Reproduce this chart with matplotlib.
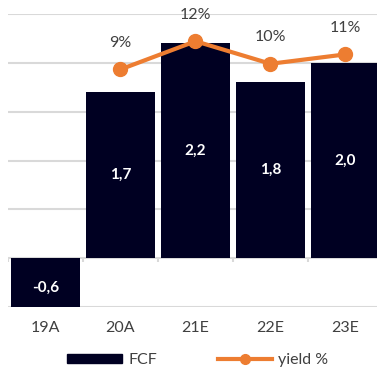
import matplotlib
matplotlib.use('Agg')
import matplotlib.pyplot as plt
from matplotlib.lines import Line2D
from matplotlib.patches import Patch

years = ['19A', '20A', '21E', '22E', '23E']
fcf = [-0.6, 1.7, 2.2, 1.8, 2.0]
yield_years = ['20A', '21E', '22E', '23E']
yield_pct = [9.0, 12.0, 9.6, 10.6]

navy = '#000022'
orange = '#ED7D31'
grid = '#d9d9d9'
text_col = '#404040'

plt.rcParams['font.family'] = ['Lato', 'DejaVu Sans']

fig = plt.figure(figsize=(3.77, 3.69), dpi=100)
ax = fig.add_axes([8 / 377, 62 / 369, 375 / 377, 293 / 369])

x = list(range(len(years)))
ax.bar(x, fcf, width=0.92, color=navy, zorder=2)
ax.set_xlim(-0.5, 4.5)
ax.set_ylim(-0.5, 2.5)
ax.set_yticks([-0.5, 0.5, 1.0, 1.5, 2.0, 2.5])
ax.yaxis.grid(True, color=grid, linewidth=1.5, zorder=0)
ax.set_yticklabels([])
ax.tick_params(axis='y', length=0)
ax.axhline(0, color=grid, linewidth=1.5, zorder=1)
ax.vlines([i - 0.5 for i in x], -0.035, 0, color=grid, linewidth=1.5, zorder=1)
for s in ax.spines.values():
    s.set_visible(False)
ax.set_xticks(x)
ax.set_xticklabels(years, fontsize=11.5, color=text_col)
ax.tick_params(axis='x', length=0, pad=10)

for i, v in enumerate(fcf):
    ax.text(i, v / 2, f'{v:.1f}'.replace('.', ','), ha='center', va='center',
            color='white', fontsize=11, fontweight='bold', zorder=3)

ax2 = ax.twinx()
ax2.set_ylim(-16.3, 14.9)
ax2.axis('off')
xi = [years.index(y) for y in yield_years]
ax2.plot(xi, yield_pct, color=orange, linewidth=3, marker='o', markersize=10,
         solid_capstyle='round', zorder=4)
for xx, v in zip(xi, yield_pct):
    ax2.annotate(f'{v:.0f}%', (xx, v), xytext=(0, 19), textcoords='offset points',
                 ha='center', va='center', fontsize=11.5, color=text_col,
                 annotation_clip=False)

handles = [Patch(color=navy, label='FCF'),
           Line2D([], [], color=orange, linewidth=3, marker='o', markersize=7,
                  label='yield %')]
leg = fig.legend(handles=handles, loc='center', bbox_to_anchor=(0.525, 9 / 369),
                 ncol=2, frameon=False, handlelength=3.4, handleheight=0.55,
                 handletextpad=0.4, columnspacing=3.8, fontsize=11.5)
for t in leg.get_texts():
    t.set_color(text_col)

fig.savefig('out.png', dpi=100)
